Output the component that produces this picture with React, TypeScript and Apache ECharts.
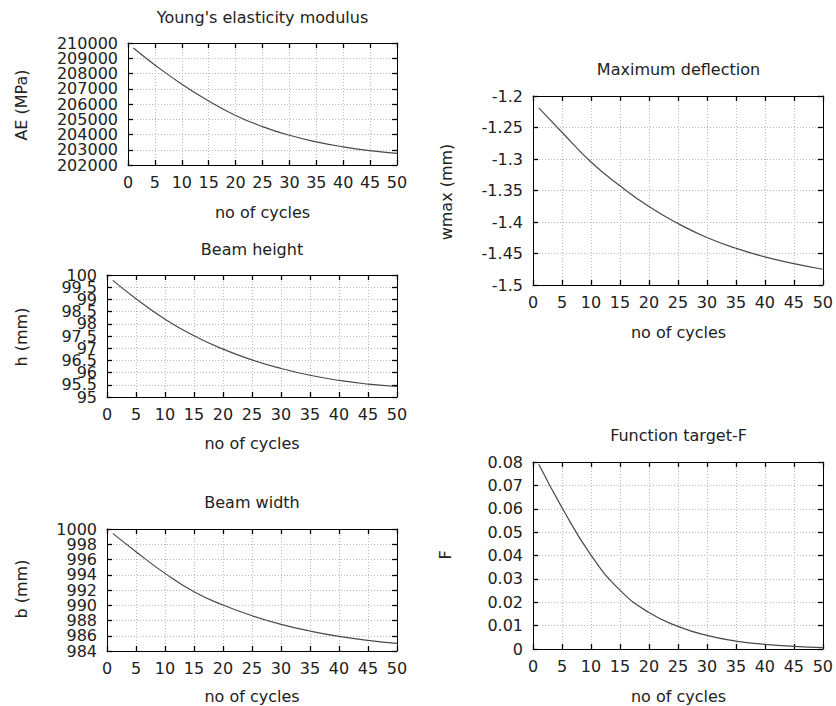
import React, { useEffect, useRef } from "react";
import * as echarts from "echarts";

// ---- data ----
const cycles = [1, 5, 10, 15, 20, 25, 30, 35, 40, 45, 50];
const youngModulus = [209670, 208560, 207300, 206200, 205250, 204520, 203950, 203520, 203190, 202940, 202760];
const beamHeight = [99.78, 99.03, 98.19, 97.51, 96.96, 96.52, 96.17, 95.89, 95.68, 95.53, 95.43];
const beamWidth = [999.43, 997.02, 994.18, 991.77, 990.03, 988.63, 987.49, 986.62, 985.92, 985.4, 985.0];
const maxDeflection = [-1.2188, -1.2575, -1.3048, -1.3425, -1.3755, -1.4025, -1.4246, -1.4416, -1.4554, -1.466, -1.475];
const targetF = [0.079, 0.0605, 0.0402, 0.0252, 0.0156, 0.0097, 0.0058, 0.0034, 0.002, 0.0011, 0.0006];

const titles = ["Young's elasticity modulus", "Beam height", "Beam width", "Maximum deflection", "Function target-F"];
const yNames = ["AE (MPa)", "h (mm)", "b (mm)", "wmax (mm)", "F"];
const xName = "no of cycles";
const xMin = 0;
const xMax = 50;
const xInterval = 5;
const yMins = [202000, 95, 984, -1.5, 0];
const yMaxs = [210000, 100, 1000, -1.2, 0.08];
const yIntervals = [1000, 0.5, 2, 0.05, 0.01];
const seriesValues = [youngModulus, beamHeight, beamWidth, maxDeflection, targetF];

// ---- layout ----
const layout = [
  { left: 128, top: 43, width: 269, height: 122, titleY: 17, xNameY: 212, yNameX: 21, yNameY: 105 },
  { left: 107, top: 275, width: 290, height: 122, titleY: 249, xNameY: 443, yNameX: 21, yNameY: 337 },
  { left: 107, top: 529, width: 290, height: 122, titleY: 502, xNameY: 696, yNameX: 21, yNameY: 589 },
  { left: 533, top: 96, width: 291, height: 189, titleY: 69, xNameY: 332, yNameX: 446, yNameY: 192 },
  { left: 533, top: 462, width: 291, height: 187, titleY: 435, xNameY: 696, yNameX: 445, yNameY: 555 },
];

const FONT = "DejaVu Sans";
const FS = 16;
const TXT = "#222";

const fmt = (v: number) => String(Number(v.toFixed(6)));

export default function App() {
  const ref = useRef<HTMLDivElement>(null);
  useEffect(() => {
    if (!ref.current) return;
    const chart = echarts.init(ref.current, null, { renderer: "svg" });
    const grids: any[] = [];
    const xAxes: any[] = [];
    const yAxes: any[] = [];
    const series: any[] = [];
    const graphics: any[] = [];
    const axisLine = { show: true, onZero: false, lineStyle: { color: "#000", width: 1 } };
    const axisTick = { show: true, inside: true, length: 5, lineStyle: { color: "#000", width: 1.3 } };
    const splitLine = { show: true, lineStyle: { color: "#b8b8b8", type: [1, 2], width: 1 } };
    const label = {
      show: true, color: TXT, fontFamily: FONT, fontSize: FS,
      showMinLabel: true, showMaxLabel: true, hideOverlap: false, formatter: fmt,
    };

    layout.forEach((p, i) => {
      const yMin = yMins[i];
      const yInt = yIntervals[i];
      const parity = (v: number) => Math.round((v - yMin) / yInt) % 2;
      grids.push({ left: p.left, top: p.top, width: p.width, height: p.height, show: false });
      xAxes.push({
        type: "value", gridIndex: i, position: "bottom", min: xMin, max: xMax, interval: xInterval,
        axisLine, axisTick, splitLine, axisLabel: { ...label, margin: 9 },
      });
      xAxes.push({
        type: "value", gridIndex: i, position: "top", min: xMin, max: xMax, interval: xInterval,
        axisLine, axisTick, splitLine: { show: false }, axisLabel: { show: false },
      });
      // left axis: line, ticks, grid and the even-indexed labels
      yAxes.push({
        type: "value", gridIndex: i, position: "left", min: yMin, max: yMaxs[i], interval: yInt,
        axisLine, axisTick, splitLine,
        axisLabel: { ...label, margin: 10, formatter: (v: number) => (parity(v) === 0 ? fmt(v) : "") },
      });
      // right mirror axis: line and ticks only
      yAxes.push({
        type: "value", gridIndex: i, position: "right", min: yMin, max: yMaxs[i], interval: yInt,
        axisLine, axisTick, splitLine: { show: false }, axisLabel: { show: false },
      });
      // second left axis carrying the odd-indexed labels
      yAxes.push({
        type: "value", gridIndex: i, position: "left", offset: 0, min: yMin, max: yMaxs[i], interval: yInt,
        axisLine: { show: false }, axisTick: { show: false }, splitLine: { show: false },
        axisLabel: {
          ...label, margin: 10, showMinLabel: false, showMaxLabel: false,
          formatter: (v: number) => (parity(v) === 1 ? fmt(v) : ""),
        },
      });
      series.push({
        type: "line",
        xAxisIndex: 2 * i,
        yAxisIndex: 3 * i,
        data: cycles.map((c, j) => [c, seriesValues[i][j]]),
        showSymbol: false,
        smooth: 0.5,
        lineStyle: { color: "#4a4a4a", width: 1.2 },
        silent: true,
      });
      const cx = p.left + p.width / 2;
      graphics.push({
        type: "text", x: cx, y: p.titleY,
        style: { text: titles[i], textAlign: "center", textVerticalAlign: "middle", font: `${FS}px "${FONT}"`, fill: TXT },
      });
      graphics.push({
        type: "text", x: cx, y: p.xNameY,
        style: { text: xName, textAlign: "center", textVerticalAlign: "middle", font: `${FS}px "${FONT}"`, fill: TXT },
      });
      graphics.push({
        type: "text", x: p.yNameX, y: p.yNameY, rotation: Math.PI / 2,
        style: { text: yNames[i], textAlign: "center", textVerticalAlign: "middle", font: `${FS}px "${FONT}"`, fill: TXT },
      });
    });

    chart.setOption({
      animation: false,
      backgroundColor: "#fff",
      grid: grids,
      xAxis: xAxes,
      yAxis: yAxes,
      series,
      graphic: graphics,
    });
    return () => chart.dispose();
  }, []);
  return (
    <div
      ref={ref}
      style={{ position: "absolute", left: 0, top: 0, width: 836, height: 706, background: "#fff" }}
    />
  );
}
